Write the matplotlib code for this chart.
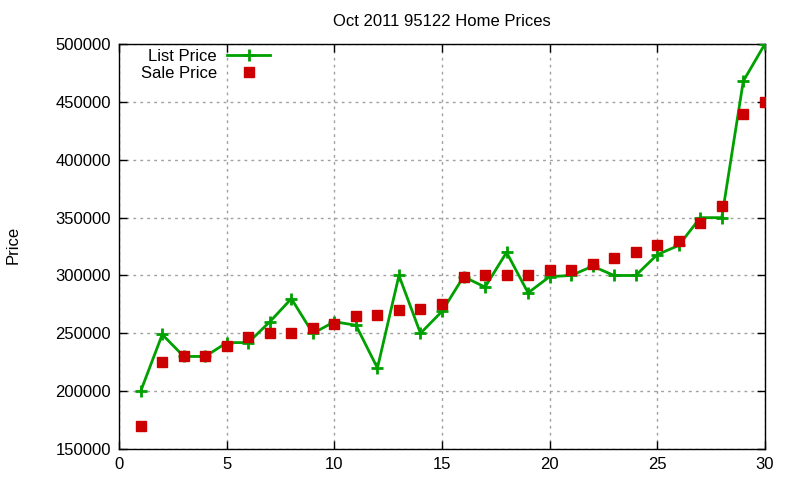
import matplotlib
matplotlib.use("Agg")
import matplotlib.pyplot as plt

days = list(range(1, 31))
list_price = [200000, 249000, 230000, 230000, 242000, 242000, 260000, 280000, 250000, 260000,
              257000, 220000, 300000, 250000, 269000, 299000, 290000, 320000, 285000, 299000,
              300000, 308000, 300000, 300000, 318000, 326000, 350000, 350000, 468000, 500000]
sale_price = [170000, 225000, 230000, 230000, 239000, 247000, 250000, 250000, 255000, 258000,
              265000, 266000, 270000, 271000, 275000, 299000, 300000, 300000, 300000, 305000,
              305000, 310000, 315000, 320000, 326000, 330000, 345000, 360000, 440000, 450000]
xticks = [0, 5, 10, 15, 20, 25, 30]
yticks = [150000, 200000, 250000, 300000, 350000, 400000, 450000, 500000]

plt.rcParams['font.family'] = ['Liberation Sans', 'DejaVu Sans']

fig = plt.figure(figsize=(8, 4.8), dpi=100)
ax = fig.add_axes([0.149, 0.0646, 0.807, 0.8434])

ax.plot(days, list_price, color='#00a000', lw=2, marker='+', ms=9, mew=2,
        label='List Price', zorder=3)
ax.plot(days, sale_price, linestyle='none', color='#cc0000', marker='s', ms=6.5,
        label='Sale Price', zorder=4)

ax.set_xlim(0, 30)
ax.set_ylim(150000, 500000)
ax.set_xticks(xticks)
ax.set_yticks(yticks)
ax.set_yticklabels([str(v) for v in yticks])
ax.tick_params(direction='in', top=True, right=True, labelsize=12, length=6, width=1, pad=6)
ax.grid(True, color='#a0a0a0', linestyle=(0, (2, 3)), lw=1)
for s in ax.spines.values():
    s.set_linewidth(1)

ax.set_title('Oct 2011 95122 Home Prices', fontsize=12, pad=13)
fig.text(0.017, 0.49, 'Price', rotation=90, fontsize=12, ha='center', va='center')

leg = ax.legend(loc='upper left', bbox_to_anchor=(0.018, 1.013), frameon=False, markerfirst=False,
                fontsize=12, handlelength=2.6, handletextpad=0.6, labelspacing=0.1,
                borderaxespad=0.2)

fig.savefig('out.png', dpi=100)
